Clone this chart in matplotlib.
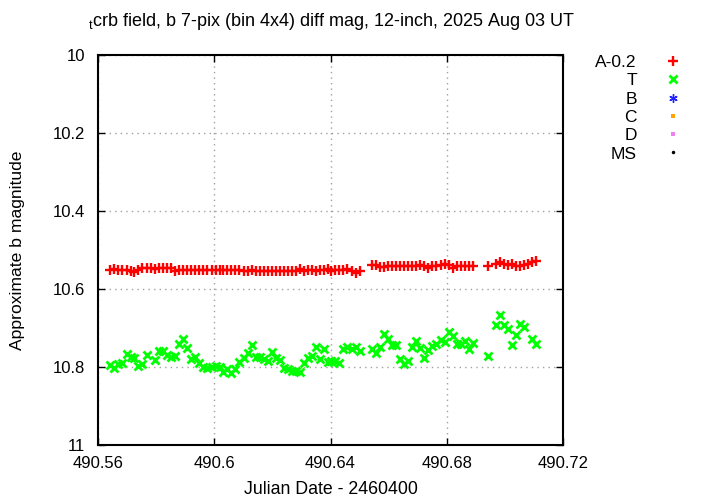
import numpy as np
import matplotlib
matplotlib.use("Agg")
import matplotlib.pyplot as plt

plt.rcParams['font.family'] = ['Liberation Sans', 'DejaVu Sans']
plt.rcParams['mathtext.fontset'] = 'custom'
plt.rcParams['mathtext.rm'] = 'Liberation Sans'
plt.rcParams['mathtext.it'] = 'Liberation Sans'

# ---- data (JD - 2460400) ----
jd = [490.56412, 490.56549, 490.56687, 490.56824, 490.56996, 490.57133, 490.57236,
      490.57373, 490.57511, 490.57682, 490.57820, 490.57957, 490.58094, 490.58232,
      490.58369, 490.58506, 490.58644, 490.58781, 490.58918, 490.59056, 490.59193,
      490.59330, 490.59468, 490.59605, 490.59742, 490.59914, 490.60052, 490.60189,
      490.60292, 490.60429, 490.60567, 490.60704, 490.60841, 490.61013, 490.61150,
      490.61288, 490.61425, 490.61562, 490.61700, 490.61837, 490.61974, 490.62112,
      490.62249, 490.62386, 490.62524, 490.62661, 490.62798, 490.62936, 490.63073,
      490.63210, 490.63348, 490.63485, 490.63622, 490.63760, 490.63897, 490.64034,
      490.64172, 490.64309, 490.64446, 490.64584, 490.64755, 490.64893, 490.65030,
      490.65442, 490.65579, 490.65717, 490.65854, 490.65991, 490.66129, 490.66266,
      490.66403, 490.66541, 490.66678, 490.66815, 490.66953, 490.67090, 490.67227,
      490.67365, 490.67502, 490.67640, 490.67811, 490.67948, 490.68086, 490.68223,
      490.68361, 490.68498, 490.68635, 490.68773, 490.68910,
      490.69425,
      490.69700, 490.69837, 490.69974, 490.70112, 490.70249, 490.70386, 490.70524,
      490.70661, 490.70798, 490.70936, 490.71073]

a_minus_02 = [10.550, 10.549, 10.551, 10.550, 10.552, 10.553, 10.556,
              10.550, 10.546, 10.547, 10.546, 10.548, 10.546, 10.547,
              10.546, 10.546, 10.554, 10.551, 10.551, 10.551, 10.551,
              10.551, 10.551, 10.551, 10.551, 10.551, 10.551, 10.552,
              10.551, 10.552, 10.552, 10.552, 10.551, 10.553, 10.553,
              10.552, 10.554, 10.555, 10.553, 10.554, 10.553, 10.554,
              10.555, 10.554, 10.555, 10.553, 10.554, 10.548, 10.553,
              10.551, 10.552, 10.555, 10.552, 10.551, 10.549, 10.554,
              10.552, 10.551, 10.551, 10.549, 10.553, 10.560, 10.553,
              10.538, 10.539, 10.543, 10.543, 10.542, 10.542, 10.542,
              10.541, 10.540, 10.541, 10.542, 10.540, 10.539, 10.541,
              10.545, 10.541, 10.540, 10.538, 10.536, 10.539, 10.545,
              10.541, 10.542, 10.541, 10.541, 10.541,
              10.540,
              10.536, 10.531, 10.536, 10.538, 10.535, 10.540, 10.541,
              10.538, 10.536, 10.531, 10.528]

t_mag = [10.795, 10.803, 10.792, 10.790, 10.767, 10.774, 10.777,
         10.797, 10.792, 10.769, np.nan, 10.782, 10.759, 10.759,
         10.769, 10.774, 10.772, 10.741, 10.728, 10.751, 10.779,
         10.774, 10.790, 10.800, 10.803, 10.800, 10.797, 10.800,
         10.813, 10.805, 10.815, 10.805, 10.787, 10.777, 10.764,
         10.744, 10.774, 10.774, 10.779, 10.785, 10.762, 10.777,
         10.782, 10.803, 10.805, 10.810, 10.810, 10.813, 10.790,
         10.777, 10.772, 10.749, 10.779, 10.754, 10.787, 10.785,
         10.785, 10.790, 10.754, 10.749, 10.754, 10.749, 10.759,
         10.754, 10.764, 10.749, 10.715, 10.728, 10.744, 10.744,
         10.779, 10.792, 10.785, 10.749, 10.733, 10.751, 10.777,
         10.756, 10.746, 10.741, 10.731, 10.736, 10.710, 10.721,
         10.741, 10.741, 10.733, 10.754, 10.738,
         10.772,
         10.692, 10.667, 10.692, 10.703, 10.744, 10.718, 10.690,
         10.697, np.nan, 10.728, 10.741]

# empty comparison series (shown only in key)
b_mag = []
c_mag = []
d_mag = []
ms_mag = []

x_ticks = [490.56, 490.60, 490.64, 490.68, 490.72]
x_tick_labels = ["490.56", "490.6", "490.64", "490.68", "490.72"]
y_ticks = [10.0, 10.2, 10.4, 10.6, 10.8, 11.0]
y_tick_labels = ["10", "10.2", "10.4", "10.6", "10.8", "11"]

title = r"${}_{\mathrm{t}}$crb field, b 7-pix (bin 4x4) diff mag, 12-inch, 2025 Aug 03 UT"

# ---- figure ----
fig = plt.figure(figsize=(7.2, 5.04), dpi=100)
ax = fig.add_axes([98/720, 1-445/504, (563-98)/720, (445-55)/504])

ax.plot(jd, a_minus_02, linestyle='none', marker='+', color='#ff0000',
        markersize=7, markeredgewidth=1.7, label='A-0.2', zorder=3)
ax.plot(jd, t_mag, linestyle='none', marker='x', color='#00ff00',
        markersize=5.5, markeredgewidth=2.0, label='T', zorder=3)
ax.plot(b_mag, b_mag, linestyle='none', marker=(6, 2, 0), color='#2020ff',
        markersize=6, markeredgewidth=1.0, label='B')
ax.plot(c_mag, c_mag, linestyle='none', marker='s', color='#ffa500',
        markersize=3, markeredgewidth=0, label='C')
ax.plot(d_mag, d_mag, linestyle='none', marker='s', color='#f080f0',
        markersize=3.5, markeredgewidth=0, label='D')
ax.plot(ms_mag, ms_mag, linestyle='none', marker='.', color='#000000',
        markersize=3, label='MS')

ax.set_xlim(490.56, 490.72)
ax.set_ylim(11.0, 10.0)
ax.set_xticks(x_ticks)
ax.set_xticklabels(x_tick_labels)
ax.set_yticks(y_ticks)
ax.set_yticklabels(y_tick_labels)
ax.tick_params(direction='in', length=5, width=1, labelsize=12,
               top=True, right=True, colors='black')
ax.tick_params(axis='x', pad=8)
ax.tick_params(axis='y', pad=9)
ax.grid(True, color='#a0a0a0', linestyle=(0, (1, 3)), linewidth=1)
for s in ax.spines.values():
    s.set_linewidth(1.5)

fig.text(331/720, 1-22/504, title, ha='center', va='center', fontsize=13)
fig.text(331/720, 1-490/504, "Julian Date - 2460400", ha='center', va='center', fontsize=12.8)
fig.text(18/720, 0.504, "Approximate b magnitude", rotation=90, ha='center',
         va='center', fontsize=12.6)

leg = ax.legend(loc='upper right', bbox_to_anchor=(682/720, 1-55/504),
                bbox_transform=fig.transFigure, frameon=False, markerfirst=False,
                fontsize=12.5, handlelength=1.0, handletextpad=1.6,
                labelspacing=0.18, borderpad=0, borderaxespad=0)

fig.savefig("out.png", dpi=100)
